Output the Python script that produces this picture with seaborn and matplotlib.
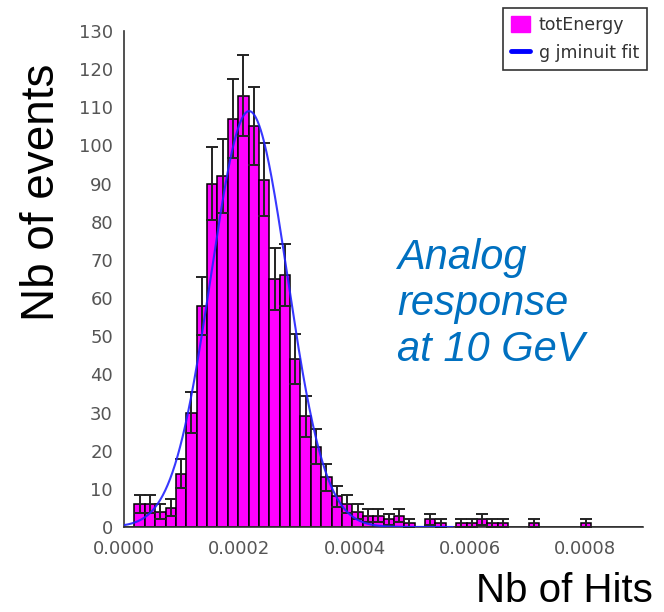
import numpy as np
import pandas as pd
import matplotlib
matplotlib.use("Agg")
import matplotlib.pyplot as plt
from matplotlib.patches import Patch
from matplotlib.lines import Line2D
import seaborn as sns

# Histogram binning: 50 bins over [0, 0.0009]
bin_width = 1.8e-5
n_bins = 50

# Counts per bin (bin 0 starts at 0)
counts = [0, 6, 6, 4, 5, 14, 30, 58, 90, 92,
          107, 113, 105, 91, 65, 66, 44, 29, 21, 13,
          8, 6, 4, 3, 3, 2, 3, 1, 0, 2,
          1, 0, 1, 1, 2, 1, 1, 0, 0, 1,
          0, 0, 0, 0, 1, 0, 0, 0, 0, 0]

# Gaussian fit result
fit_amplitude = 109.0
fit_mean = 2.17e-4
fit_sigma = 6.6e-5
fit_range = (0.0, 5.7e-4)

y_ticks = list(range(0, 131, 10))
x_ticks = [0.0, 0.0002, 0.0004, 0.0006, 0.0008]
x_tick_labels = ["0.0000", "0.0002", "0.0004", "0.0006", "0.0008"]

sns.set_style("white")
plt.rcParams["font.family"] = ["DejaVu Sans"]

W, H = 664, 612
fig = plt.figure(figsize=(W / 100, H / 100), dpi=100)
ax = fig.add_axes([124 / W, 1 - 527 / H, (643 - 124) / W, (527 - 31) / H])

edges = np.arange(n_bins + 1) * bin_width
centers = edges[:-1] + bin_width / 2
df = pd.DataFrame({"hits": centers, "events": counts})

sns.histplot(data=df, x="hits", weights="events", bins=n_bins,
             binrange=(0, n_bins * bin_width), ax=ax,
             color="#ff00ff", edgecolor="black", linewidth=1.1, alpha=1.0,
             legend=False)

# Poisson error bars on non-empty bins
cnt = np.array(counts, dtype=float)
mask = cnt > 0
err = np.sqrt(cnt[mask])
ax.errorbar(centers[mask], cnt[mask], yerr=err, fmt="none", ecolor="#222222",
            elinewidth=1.4, capsize=4.0, capthick=1.4, zorder=3)

# Gaussian fit curve
xf = np.linspace(fit_range[0], fit_range[1], 400)
yf = fit_amplitude * np.exp(-0.5 * ((xf - fit_mean) / fit_sigma) ** 2)
sns.lineplot(x=xf, y=yf, ax=ax, color="#2222ff", linewidth=1.5, alpha=0.9,
             zorder=4)

ax.set_xlim(0, 0.0009)
ax.set_ylim(0, 130)
ax.set_yticks(y_ticks)
ax.set_xticks(x_ticks)
ax.set_xticklabels(x_tick_labels)
ax.set_xlabel("")
ax.set_ylabel("")
for s in ["top", "right"]:
    ax.spines[s].set_visible(False)
for s in ["left", "bottom"]:
    ax.spines[s].set_color("#333333")
    ax.spines[s].set_linewidth(1.2)
ax.tick_params(axis="both", direction="inout", length=12, width=1.2,
               color="#333333", labelcolor="#555555", labelsize=13)
ax.tick_params(axis="y", pad=2)
ax.tick_params(axis="x", pad=3)

# Axis titles
fig.text(42 / W, 1 - 192 / H, "Nb of events", rotation=90, ha="center",
         va="center", fontsize=33, color="black",
         family=["Liberation Sans", "DejaVu Sans"])
fig.text(653 / W, 1 - 602 / H, "Nb of Hits", ha="right", va="baseline",
         fontsize=29, color="black",
         family=["Liberation Sans", "DejaVu Sans"])

# Annotation
fig.text(397 / W, 1 - 238 / H, "Analog\nresponse\nat 10 GeV", ha="left",
         va="top", fontsize=30, style="italic", color="#0070c0",
         linespacing=1.2, family=["Liberation Sans", "DejaVu Sans"])

# Legend
handles = [Patch(facecolor="#ff00ff", edgecolor="#ff00ff"),
           Line2D([0], [0], color="#0000ff", linewidth=3.5)]
leg = fig.legend(handles, ["totEnergy", "g jminuit fit"],
                 loc="upper right", bbox_to_anchor=(647 / W, 1 - 8 / H),
                 frameon=True, fancybox=False, fontsize=12.5,
                 handlelength=1.1, handleheight=1.05, handletextpad=0.5,
                 borderpad=0.45, labelspacing=0.6, borderaxespad=0)
leg.get_frame().set_edgecolor("black")
leg.get_frame().set_linewidth(1.2)
for t in leg.get_texts():
    t.set_color("#333333")

fig.savefig("out.png", dpi=100)
